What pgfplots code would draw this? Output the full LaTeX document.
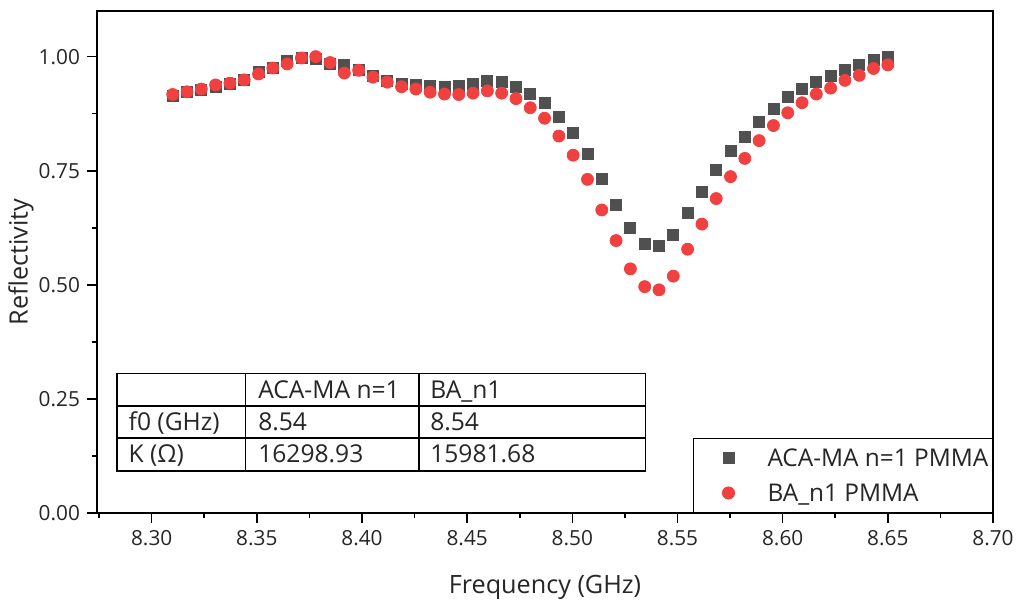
\documentclass[border=0pt]{standalone}
\usepackage{fontspec}
\setmainfont{Open Sans}
\usepackage{pgfplots}
\pgfplotsset{compat=1.18}
\usepackage{pgfplotstable}
\definecolor{sqgray}{RGB}{80,80,80}
\definecolor{cred}{RGB}{240,64,64}

\pgfplotstableread{
x y
8.3100 0.915
8.3168 0.922
8.3236 0.928
8.3304 0.934
8.3372 0.941
8.3440 0.950
8.3508 0.966
8.3576 0.975
8.3644 0.991
8.3712 0.997
8.3780 0.995
8.3848 0.984
8.3916 0.982
8.3984 0.972
8.4052 0.957
8.4120 0.947
8.4188 0.940
8.4256 0.937
8.4324 0.935
8.4392 0.934
8.4460 0.935
8.4528 0.940
8.4596 0.947
8.4664 0.944
8.4732 0.934
8.4800 0.918
8.4868 0.899
8.4936 0.869
8.5004 0.832
8.5072 0.787
8.5140 0.731
8.5208 0.675
8.5276 0.624
8.5344 0.589
8.5412 0.585
8.5480 0.609
8.5548 0.657
8.5616 0.704
8.5684 0.751
8.5752 0.793
8.5820 0.825
8.5888 0.858
8.5956 0.886
8.6024 0.911
8.6092 0.929
8.6160 0.945
8.6228 0.958
8.6296 0.971
8.6364 0.982
8.6432 0.993
8.6500 1.000
}\acadata

\pgfplotstableread{
x y
8.3100 0.917
8.3168 0.923
8.3236 0.929
8.3304 0.938
8.3372 0.942
8.3440 0.949
8.3508 0.962
8.3576 0.975
8.3644 0.984
8.3712 0.997
8.3780 1.000
8.3848 0.987
8.3916 0.964
8.3984 0.970
8.4052 0.955
8.4120 0.944
8.4188 0.934
8.4256 0.929
8.4324 0.922
8.4392 0.918
8.4460 0.917
8.4528 0.920
8.4596 0.925
8.4664 0.920
8.4732 0.908
8.4800 0.888
8.4868 0.865
8.4936 0.826
8.5004 0.784
8.5072 0.731
8.5140 0.664
8.5208 0.597
8.5276 0.535
8.5344 0.496
8.5412 0.489
8.5480 0.519
8.5548 0.578
8.5616 0.633
8.5684 0.689
8.5752 0.737
8.5820 0.777
8.5888 0.816
8.5956 0.849
8.6024 0.877
8.6092 0.899
8.6160 0.918
8.6228 0.931
8.6296 0.948
8.6364 0.959
8.6432 0.974
8.6500 0.982
}\badata

\begin{document}
\begin{tikzpicture}
\begin{axis}[
  scale only axis, width=448pt, height=251pt,
  xmin=8.274, xmax=8.70, ymin=0, ymax=1.1,
  xtick={8.30,8.35,8.40,8.45,8.50,8.55,8.60,8.65,8.70},
  minor xtick={8.275,8.325,8.375,8.425,8.475,8.525,8.575,8.625,8.675},
  ytick={0,0.25,0.5,0.75,1},
  minor ytick={0.125,0.375,0.625,0.875},
  tick align=outside, tick pos=left,
  major tick length=5pt, minor tick length=2.5pt,
  axis line style={line width=0.9pt},
  every tick/.style={black, line width=0.8pt},
  tick label style={font=\fontsize{10.4}{12}\selectfont, text=black!85},
  /pgf/number format/assume math mode=true,
  xticklabel style={/pgf/number format/fixed, /pgf/number format/fixed zerofill, /pgf/number format/precision=2},
  yticklabel style={/pgf/number format/fixed, /pgf/number format/fixed zerofill, /pgf/number format/precision=2},
  xlabel={Frequency (GHz)}, ylabel={Reflectivity},
  label style={font=\fontsize{12.6}{15}\selectfont, text=black!85},
  xlabel style={at={(axis description cs:0.5,-0.1594)}, anchor=base, inner sep=0pt},
  ylabel style={at={(axis description cs:-0.0848,0.5)}, anchor=center, inner sep=0pt},
  legend style={at={(1,0)}, anchor=south east, draw=black, line width=0.5pt,
    fill=white, inner xsep=1.5pt, inner ysep=2.5pt, row sep=3pt,
    font=\fontsize{12.2}{14}\selectfont, text=black!85,
    nodes={inner sep=0pt, text depth=0pt}},
  legend cell align=left,
  legend image code/.code={%
    \pgfpathrectangle{\pgfpoint{0pt}{-7.25pt}}{\pgfpoint{35.5pt}{14.5pt}}%
    \pgfusepath{use as bounding box}%
    \draw[mark repeat=2,mark phase=2,#1] plot coordinates {(0pt,0pt)(16pt,0pt)(32pt,0pt)};},
]
\addplot[only marks, mark=square*, mark size=2.75pt, color=sqgray] table[x=x,y=y]{\acadata};
\addlegendentry{\makebox[111pt][l]{ACA-MA n=1 PMMA}}
\addplot[only marks, mark=*, mark size=3pt, color=cred] table[x=x,y=y]{\badata};
\addlegendentry{\makebox[111pt][l]{BA\_n1 PMMA}}
\end{axis}
\begin{scope}[shift={(current axis.south west)}, line width=0.7pt]
\draw (10pt,21pt) rectangle (274.3pt,69.6pt);
\draw (10pt,37.5pt) -- (274.3pt,37.5pt);
\draw (10pt,53.5pt) -- (274.3pt,53.5pt);
\draw (74.25pt,21pt) -- (74.25pt,69.6pt);
\draw (161pt,21pt) -- (161pt,69.6pt);
\begin{scope}[every node/.style={anchor=base west, inner sep=0pt, font=\fontsize{12.3}{14}\selectfont, text=black!85}]
\node at (80.3pt,57.2pt) {ACA-MA n=1};
\node at (166.3pt,57.2pt) {BA\_n1};
\node at (15.5pt,41.2pt) {f0 (GHz)};
\node at (80.3pt,41.2pt) {8.54};
\node at (166.3pt,41.2pt) {8.54};
\node at (15.5pt,25pt) {K (Ω)};
\node at (80.3pt,25pt) {16298.93};
\node at (166.3pt,25pt) {15981.68};
\end{scope}
\end{scope}
\pgfresetboundingbox
\path[use as bounding box] ([shift={(-48.5pt,-45pt)}]current axis.south west) rectangle ([shift={(11.5pt,5.5pt)}]current axis.north east);
\end{tikzpicture}
\end{document}
